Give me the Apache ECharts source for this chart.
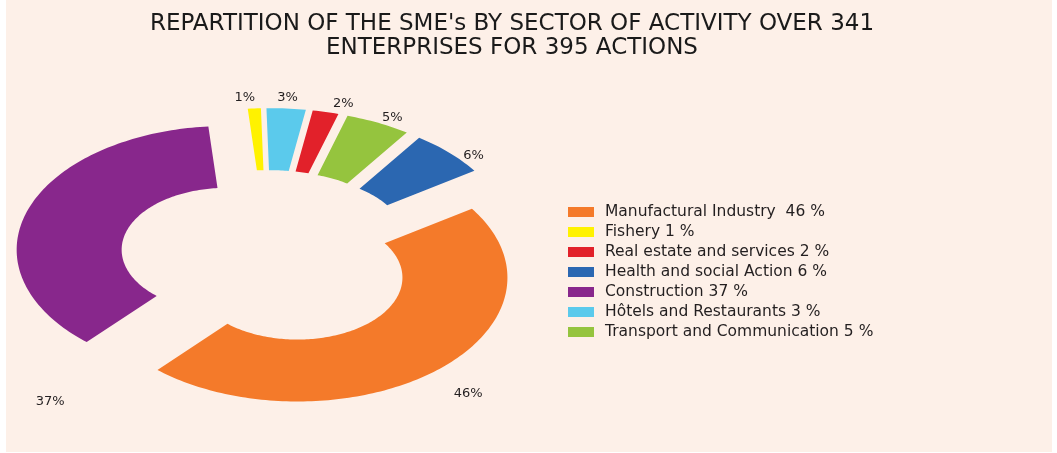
<!DOCTYPE html>
<html><head><meta charset="utf-8">
<script src="https://cdn.jsdelivr.net/npm/echarts@6/dist/echarts.min.js"></script>
<style>html,body{margin:0;padding:0;background:#ffffff;}#c{position:absolute;left:6px;top:0;width:1046px;height:452px;}</style>
</head><body><div id="c"></div>
<script>
// ---- data ----
const categories = ['Fishery', 'Hôtels and Restaurants', 'Real estate and services', 'Transport and Communication', 'Health and social Action', 'Manufactural Industry', 'Construction'];
const values = [1, 3, 2, 5, 6, 46, 37];
const legendOrder = ['Manufactural Industry', 'Fishery', 'Real estate and services', 'Health and social Action', 'Construction', 'Hôtels and Restaurants', 'Transport and Communication'];
const legendLabels = ['Manufactural Industry  46 %', 'Fishery 1 %', 'Real estate and services 2 %', 'Health and social Action 6 %', 'Construction 37 %', 'Hôtels and Restaurants 3 %', 'Transport and Communication 5 %'];
const titleLines = ["REPARTITION OF THE SME's BY SECTOR OF ACTIVITY OVER 341", 'ENTERPRISES FOR 395 ACTIONS'];

// ---- style ----
const colors = ['#FFF200', '#5BCAEC', '#E2212A', '#95C43E', '#2B67B1', '#F47A2A', '#88278C'];
const START_DEG = -5;      // where the first slice begins, clockwise from 12 o'clock
const INNER = 0.5;         // inner radius / outer radius
const EXPLODE = 0.21;      // explode distance (in outer-radius units)
const labelStyle = [       // label placement per slice: fraction along slice, radius
  {at: 0.0, r: 1.3}, {at: 0.5, r: 1.3}, {at: 0.9, r: 1.3}, {at: 0.6, r: 1.28},
  {at: 0.7, r: 1.28}, {at: 0.5, r: 1.45}, {at: 0.0, r: 1.56}
];

const total = values.reduce((a, b) => a + b, 0);
const labelMap = {};
legendOrder.forEach((n, k) => { labelMap[n] = legendLabels[k]; });

function makeRender(i) {
  return function (params, api) {
    let cum = 0;
    for (let k = 0; k < i; k++) cum += values[k];
    const a0 = (START_DEG + cum / total * 360) * Math.PI / 180;
    const a1 = (START_DEG + (cum + values[i]) / total * 360) * Math.PI / 180;
    const m = (a0 + a1) / 2;
    const ox = EXPLODE * Math.sin(m), oy = EXPLODE * Math.cos(m);
    const n = Math.max(4, Math.ceil((a1 - a0) / 0.02));
    const pts = [];
    for (let s = 0; s <= n; s++) {
      const a = a0 + (a1 - a0) * s / n;
      pts.push(api.coord([ox + Math.sin(a), oy + Math.cos(a)]));
    }
    for (let s = n; s >= 0; s--) {
      const a = a0 + (a1 - a0) * s / n;
      pts.push(api.coord([ox + INNER * Math.sin(a), oy + INNER * Math.cos(a)]));
    }
    const ls = labelStyle[i];
    const la = a0 + (a1 - a0) * ls.at;
    const lp = api.coord([ls.r * Math.sin(la), ls.r * Math.cos(la)]);
    return {
      type: 'group',
      children: [
        {type: 'polygon', shape: {points: pts}, style: {fill: colors[i]}},
        {type: 'text', x: lp[0], y: lp[1], style: {text: values[i] + '%', fill: '#231F20', font: '13px "DejaVu Sans"', align: 'center', verticalAlign: 'middle'}}
      ]
    };
  };
}

const series = categories.map((name, i) => ({
  type: 'custom',
  name: name,
  coordinateSystem: 'cartesian2d',
  itemStyle: {color: colors[i]},
  renderItem: makeRender(i),
  data: [[0, 0]],
  silent: true
}));

const chart = echarts.init(document.getElementById('c'), null, {renderer: 'canvas'});
chart.setOption({
  backgroundColor: '#FDF0E8',
  animation: false,
  title: {
    text: titleLines.join('\n'),
    left: 501, top: 7, textAlign: 'center',
    textStyle: {fontFamily: 'DejaVu Sans', fontSize: 23, fontWeight: 'normal', color: '#1a1a1a', lineHeight: 24}
  },
  legend: {
    data: legendOrder,
    orient: 'vertical',
    left: 557, top: 197,
    itemWidth: 26, itemHeight: 10, itemGap: 0,
    icon: 'rect',
    formatter: name => labelMap[name],
    textStyle: {fontFamily: 'DejaVu Sans', fontSize: 15.5, color: '#231F20', lineHeight: 20, padding: [0, 0, 0, 6]},
    selectedMode: false
  },
  grid: {left: 0, width: 525, top: 97, height: 322},
  xAxis: {type: 'value', min: -1.25, max: 1.25, show: false},
  yAxis: {type: 'value', min: -1.3, max: 1.3, show: false},
  series: series
});
</script>
</body></html>
